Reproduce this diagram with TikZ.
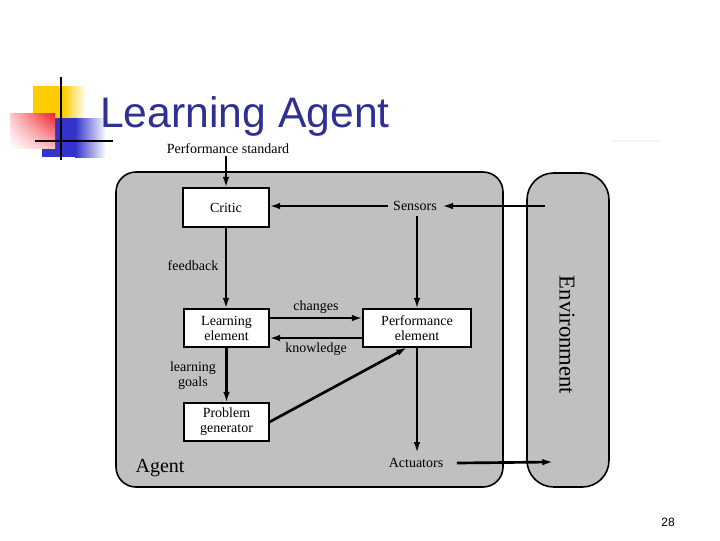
\documentclass[tikz,border=0pt]{standalone}
\usepackage{fontspec}
\setmainfont{Liberation Serif}
\newfontfamily\titlefont{Liberation Sans}
\usetikzlibrary{arrows.meta,shadings}
\definecolor{agentgray}{RGB}{192,192,192}
\definecolor{titleblue}{RGB}{46,49,146}
\definecolor{logoyellow}{RGB}{255,204,0}
\definecolor{logoblue}{RGB}{51,51,204}
\definecolor{logored}{RGB}{240,30,40}
\tikzset{
  lbox/.style={draw, fill=white, line width=0.8pt, font=\fontsize{10.5}{11.25}\selectfont, align=center, inner sep=0pt},
  lbl/.style={font=\fontsize{10.5}{11.25}\selectfont, align=center, inner sep=1pt},
  arr/.style={line width=2pt, -{Latex[length=8pt,width=5pt]}},
  region/.style={draw, fill=agentgray, line width=1.2pt},
}
\begin{document}
\begin{tikzpicture}[x=0.75pt,y=-0.75pt]
\useasboundingbox (0,0) rectangle (720,540);
\fill[white] (0,0) rectangle (720,540);
% logo
\fill[logoyellow] (33,86) rectangle (63,118);
\shade[left color=logoyellow, right color=white] (63,86) rectangle (86,118);
\fill[logoblue] (42,118) rectangle (75,157);
\shade[left color=logoblue, right color=white] (75,118) rectangle (106,157);
\shade[upper right=logored, upper left=logored!25, lower right=logored!30, lower left=white] (10,113) rectangle (55,148);
\draw[line width=1.8pt] (61,77) -- (61,160);
\draw[line width=1.8pt] (35,141) -- (113,141);
\node[anchor=base west, font=\titlefont\fontsize{32}{36}\selectfont, text=titleblue, inner sep=0pt] (title) at (100,127) {Learning Agent};
\draw[gray!8, line width=0.8pt] (612,141) -- (660,141);
% regions
\draw[region, rounded corners=15pt] (116,172) rectangle (503,487);
\draw[region, rounded corners=20pt] (527,173) rectangle (609,487);
% nodes
\node[lbl] (perfstd) at (228,149) {Performance standard};
\node[lbox, minimum width=64.5pt, minimum height=29.25pt] (critic) at (226,207.5) {Critic};
\node[lbox, minimum width=63.75pt, minimum height=28.5pt] (learning) at (226.5,328) {Learning\\element};
\node[lbox, minimum width=81pt, minimum height=28.5pt] (perf) at (417,328) {Performance\\element};
\node[lbox, minimum width=63.75pt, minimum height=28.5pt] (problem) at (226.5,422) {Problem\\generator};
\node[lbl, inner sep=4pt] (sensors) at (415,206) {Sensors};
\node[lbl, inner sep=4pt] (actuators) at (416,463) {Actuators};
\node[lbl] (feedback) at (193,266) {feedback};
\node[lbl] (goals) at (193,376) {learning\\goals};
\node[lbl] (changes) at (316,307) {changes};
\node[lbl] (knowledge) at (316,349) {knowledge};
\node[font=\fontsize{15}{18}\selectfont] (agent) at (160,468) {Agent};
\node[font=\fontsize{17}{20}\selectfont, rotate=-90] (env) at (567,335) {Environment};
\node[font=\titlefont\fontsize{9}{11}\selectfont] (page) at (668,522) {28};
\coordinate (envS) at (545,206);
\coordinate (envA) at (553,462);
% connectors
\draw[arr] (critic.north |- perfstd.south) -- (critic.north);
\draw[arr] (sensors.west) -- (critic.east |- sensors.west);
\draw[arr] (envS) -- (sensors.east);
\draw[arr] (perf.north |- sensors.south) -- (perf.north);
\draw[arr] (critic.south) -- (learning.north -| critic.south);
\draw[arr] ([yshift=7.5pt]learning.east) -- ([yshift=7.5pt]perf.west);
\draw[arr] ([yshift=-7.5pt]perf.west) -- ([yshift=-7.5pt]learning.east);
\draw[arr] (learning.south) -- (problem.north);
\draw[arr] (problem.east) -- ([xshift=-7.5pt]perf.south);
\draw[arr] (perf.south) -- (perf.south |- actuators.north);
\draw[arr] ([xshift=6pt]actuators.east) -- (envA);
\end{tikzpicture}
\end{document}
